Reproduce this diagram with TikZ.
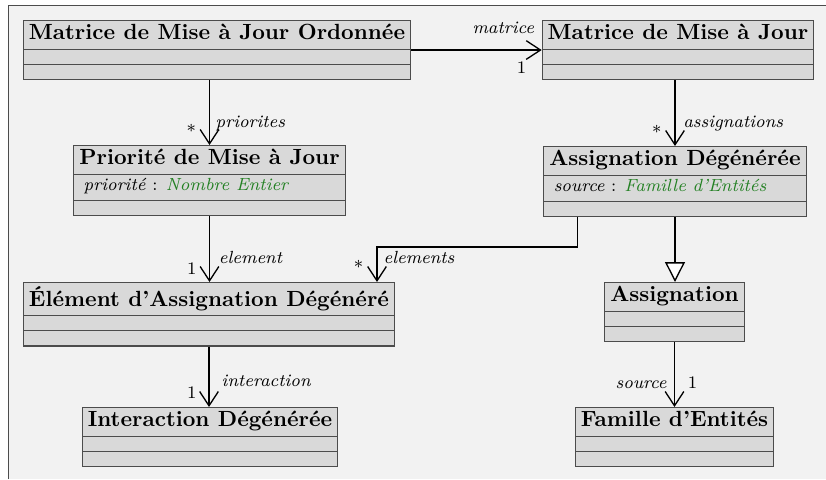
\documentclass[tikz,border=0pt]{standalone}
\usepackage{xcolor}
\usetikzlibrary{arrows.meta}
\usetikzlibrary{shapes.multipart}
\usetikzlibrary{calc}

\definecolor{attrgreen}{RGB}{34,128,34}
\newcommand{\classname}[1]{\rule[-2.5pt]{0pt}{9pt}\textbf{#1}}
\newcommand{\classattr}[2]{\rule[-3pt]{0pt}{6.8pt}\hspace{2pt}\footnotesize\textit{#1} : \textcolor{attrgreen}{\textit{#2}}}
\newcommand{\emptyrow}{\rule{0pt}{3.4pt}}

\begin{document}
\begin{tikzpicture}[
    umlclass/.style={rectangle split, rectangle split parts=3, draw=black!70, fill=black!15,
      anchor=north, inner xsep=2.5pt, inner ysep=1.5pt, line width=0.5pt,
      rectangle split part align={center, left, left}},
    assoc/.style={-{Straight Barb[length=6.5pt, width=8.5pt]}, line width=0.6pt},
    gener/.style={-{Triangle[open, length=9pt, width=9pt, fill=white]}, line width=0.6pt},
    role/.style={font=\footnotesize\itshape, inner sep=0pt},
    mult/.style={font=\footnotesize, inner sep=0pt}]

    \useasboundingbox (0,0) rectangle (13.216,7.664);
    \fill[black!5] (0.128,0) rectangle (13.216,7.584);
    \draw[black!70] (0.128,0) -- (0.128,7.584) -- (13.216,7.584);

    \node[umlclass] (1) at (3.472,7.344) {\classname{Matrice de Mise à Jour Ordonnée}\nodepart{second}\emptyrow\nodepart{third}\emptyrow};
    \node[umlclass] (2) at (10.848,7.344) {\classname{Matrice de Mise à Jour}\nodepart{second}\emptyrow\nodepart{third}\emptyrow};
    \node[umlclass] (3) at (3.352,5.344) {\classname{Priorité de Mise à Jour}\nodepart{second}\classattr{priorité}{Nombre Entier}\nodepart{third}\emptyrow};
    \node[umlclass] (4) at (10.8,5.328) {\classname{Assignation Dégénérée}\nodepart{second}\classattr{source}{Famille d'Entités}\nodepart{third}\emptyrow};
    \node[umlclass] (5) at (3.344,3.152) {\classname{Élément d'Assignation Dégénéré}\nodepart{second}\emptyrow\nodepart{third}\emptyrow};
    \node[umlclass] (6) at (3.36,1.152) {\classname{Interaction Dégénérée}\nodepart{second}\emptyrow\nodepart{third}\emptyrow};
    \node[umlclass] (7) at (10.792,3.152) {\classname{Assignation}\nodepart{second}\emptyrow\nodepart{third}\emptyrow};
    \node[umlclass] (8) at (10.792,1.152) {\classname{Famille d'Entités}\nodepart{second}\emptyrow\nodepart{third}\emptyrow};
    \coordinate (9) at (6.032,3.712);

    \draw[assoc] (1.east) -- (2.west)
        node[role, pos=1, anchor=base east, xshift=-3.2pt, yshift=7.7pt] {matrice}
        node[mult, pos=1, anchor=base east, xshift=-6.8pt, yshift=-10.9pt] {1};
    \draw[assoc] (1.south -| 3.north) -- (3.north)
        node[mult, pos=1, anchor=base east, xshift=-5.9pt, yshift=3.4pt] {*}
        node[role, pos=1, anchor=base west, xshift=2.5pt, yshift=7.8pt] {priorites};
    \draw[assoc] (2.south -| 4.north) -- (4.north)
        node[mult, pos=1, anchor=base east, xshift=-5.9pt, yshift=3.4pt] {*}
        node[role, pos=1, anchor=base west, xshift=3.5pt, yshift=8.2pt] {assignations};
    \draw[assoc] (3.south) -- (3.south |- 5.north)
        node[mult, pos=1, anchor=base east, xshift=-5.6pt, yshift=3.2pt] {1}
        node[role, pos=1, anchor=base west, xshift=4pt, yshift=8.5pt] {element};
    \draw[assoc] ([xshift=0.544cm]4.south west) |- (9) -- (9 |- 5.north)
        node[mult, pos=1, anchor=base east, xshift=-6pt, yshift=4pt] {*}
        node[role, pos=1, anchor=base west, xshift=2.7pt, yshift=8.6pt] {elements};
    \draw[assoc] (5.south) -- (5.south |- 6.north)
        node[mult, pos=1, anchor=base east, xshift=-5.4pt, yshift=4pt] {1}
        node[role, pos=1, anchor=base west, xshift=5.5pt, yshift=9.2pt] {interaction};
    \draw[gener] (4.south) -- (4.south |- 7.north);
    \draw[assoc] (7.south) -- (8.north)
        node[role, pos=1, anchor=base east, xshift=-3.3pt, yshift=8.6pt] {source}
        node[mult, pos=1, anchor=base west, xshift=5.8pt, yshift=8.6pt] {1};
\end{tikzpicture}
\end{document}
